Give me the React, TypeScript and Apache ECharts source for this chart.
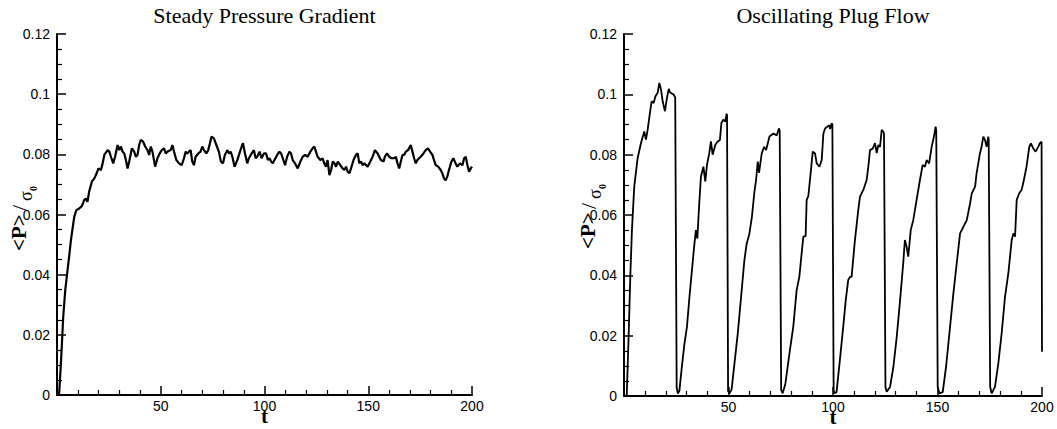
import React, { useEffect, useRef } from "react";
import * as echarts from "echarts";

const titles = ["Steady Pressure Gradient", "Oscillating Plug Flow"];
const xName = "t";
const yNameParts = ["<P>", "/", "σ", "0"];
const xTicks = [0, 50, 100, 150, 200];
const yTicks = [0, 0.02, 0.04, 0.06, 0.08, 0.1, 0.12];

// t values
const steadyT = [
  1, 2, 3, 4, 5, 6, 6.7, 8.3, 9.3, 10.7, 12, 13.1, 13.9, 14.7, 15.5, 16.8, 18, 19.1, 20, 21.2, 22, 22.8,
  24.4, 25.2, 26, 27.1, 28, 29.2, 30, 30.8, 31.6, 32.4, 33.2, 34, 34.8, 36.1, 37.2, 38, 38.8, 39.6, 40.4,
  41.5, 42.5, 43.6, 44.4, 45.2, 46, 47.3, 48.4, 49.5, 50.5, 51.6, 52.4, 53.2, 54.8, 55.6, 56.4, 57.5,
  58.8, 60.1, 61.2, 62, 62.8, 63.6, 64.4, 65.2, 66, 66.8, 68.1, 69.2, 70, 70.8, 72, 72.9, 74.5, 75.6,
  76.8, 78, 79, 80, 80.9, 82.1, 82.9, 83.7, 84.5, 85.6, 86.9, 87.7, 89, 89.6, 90.6, 91.7, 92.5, 93.8,
  94.9, 95.7, 96.5, 97.6, 98.6, 99.7, 100.8, 101.6, 102.4, 103.2, 104, 104.8, 106.1, 107.2, 108, 108.8,
  109.9, 110.9, 112, 112.8, 113.6, 114.7, 116, 117.3, 118.4, 119.6, 120.8, 122.1, 123.2, 124, 124.8,
  125.6, 126.9, 128, 128.8, 129.6, 130.4, 131.3, 132.1, 132.9, 133.7, 134.5, 135.3, 136.5, 137.7, 138.5,
  139.3, 140.1, 140.9, 141.7, 142.9, 144.1, 144.9, 145.7, 146.5, 147.3, 148.1, 149.7, 151, 152.1, 153.2,
  154.5, 155.3, 156.1, 157.4, 158, 159, 160.1, 161.2, 162.5, 163.3, 164.1, 164.9, 165.7, 166.5, 167.3,
  168.1, 169.2, 170.5, 171.3, 172.1, 172.9, 173.7, 174.5, 175.3, 176.6, 177.7, 178.8, 179.8, 180.9,
  181.7, 182.5, 183.7, 184.9, 185.7, 186.5, 187.3, 188.1, 188.9, 190.1, 191, 192.1, 192.9, 194.2, 195.4,
  196.2, 197, 197.8, 198.6, 199.4, 200,
];
// <P>/σ0 values of the steady pressure gradient panel
const steadyP = [
  0, 0.012, 0.026, 0.035, 0.041, 0.047, 0.0514, 0.0592, 0.0614, 0.062, 0.0628, 0.0648, 0.0653, 0.0642,
  0.0676, 0.0709, 0.072, 0.0737, 0.0753, 0.0748, 0.077, 0.0798, 0.0814, 0.0809, 0.0792, 0.077, 0.0792,
  0.0831, 0.0814, 0.0826, 0.0809, 0.0803, 0.0781, 0.0753, 0.0776, 0.082, 0.0809, 0.0792, 0.0798, 0.0831,
  0.0848, 0.0842, 0.0826, 0.0814, 0.0798, 0.0826, 0.0809, 0.0759, 0.0787, 0.0803, 0.0814, 0.082, 0.0803,
  0.0809, 0.0814, 0.0831, 0.0809, 0.0781, 0.077, 0.0764, 0.0787, 0.0809, 0.0803, 0.0809, 0.0814, 0.0776,
  0.0764, 0.0792, 0.0803, 0.0809, 0.0826, 0.0814, 0.0803, 0.0814, 0.0859, 0.0853, 0.0831, 0.0809, 0.0776,
  0.077, 0.0798, 0.0814, 0.0803, 0.0809, 0.0792, 0.0759, 0.0781, 0.0798, 0.0826, 0.0837, 0.0803, 0.077,
  0.0787, 0.0803, 0.0814, 0.0787, 0.0792, 0.0809, 0.0787, 0.0803, 0.0803, 0.0781, 0.0787, 0.0776, 0.077,
  0.0781, 0.0798, 0.0809, 0.0803, 0.0787, 0.0764, 0.0792, 0.0809, 0.0803, 0.0781, 0.077, 0.0753, 0.0776,
  0.0792, 0.0798, 0.0792, 0.0809, 0.082, 0.0826, 0.0809, 0.0792, 0.0781, 0.0787, 0.077, 0.0759, 0.0781,
  0.0731, 0.0748, 0.0776, 0.077, 0.0759, 0.0776, 0.0764, 0.0753, 0.0748, 0.0759, 0.0742, 0.0737, 0.0753,
  0.0781, 0.0798, 0.0803, 0.077, 0.0776, 0.0764, 0.077, 0.0759, 0.0776, 0.0792, 0.0814, 0.0803, 0.0792,
  0.0781, 0.0776, 0.0792, 0.0803, 0.0792, 0.0787, 0.0787, 0.0792, 0.077, 0.0753, 0.0776, 0.0798, 0.0798,
  0.0809, 0.0814, 0.0831, 0.0809, 0.0787, 0.077, 0.0781, 0.0787, 0.0792, 0.0803, 0.0814, 0.082, 0.0809,
  0.0798, 0.0781, 0.0764, 0.0759, 0.0748, 0.0737, 0.072, 0.0714, 0.0726, 0.0748, 0.0776, 0.0787, 0.077,
  0.0759, 0.077, 0.0764, 0.0787, 0.0792, 0.0764, 0.0742, 0.0753, 0.0759,
];

// t values
const plugT = [
  1.3, 2.2, 3, 3.8, 4.9, 6.5, 8.1, 9.7, 10.5, 11.3, 12.4, 13.2, 14.2, 15, 16.1, 16.9, 17.7, 18.5, 19.6,
  20.4, 21.4, 22, 23, 23.8, 24.2, 24.5, 25.2, 25.8, 26.5, 27.8, 28.9, 30.1, 31.3, 32.5, 33.7, 34.4, 35.1,
  36, 36.8, 38, 38.9, 39.7, 40.8, 41.6, 42.4, 43.7, 44.8, 45.9, 46.6, 47.5, 48.5, 49.1, 49.3, 49.8, 50.4,
  51.5, 52.8, 54.4, 56, 57.6, 58.7, 60, 61.2, 62.4, 63.2, 64, 64.6, 65.9, 67, 68, 69.6, 71.5, 73.1, 74.1,
  74.5, 75.2, 75.9, 77.2, 79.4, 81, 82.6, 83.9, 85, 85.8, 86.9, 87.4, 88.2, 89.3, 90.3, 91.4, 92.2, 93.5,
  94.6, 95.4, 96.2, 97.3, 98.2, 98.6, 99.4, 99.7, 100.3, 100.6, 101.7, 103.3, 104.9, 106.1, 107.3, 108.1,
  108.9, 110.5, 112.1, 112.9, 114.5, 116.1, 116.9, 117.7, 119, 120.1, 120.9, 121.7, 122.5, 123.3, 124.1,
  124.4, 125.1, 125.7, 127.3, 128.9, 130.5, 132.1, 133.6, 134.4, 135.2, 136, 137.2, 138.4, 140, 141.6,
  142.9, 144, 144.8, 146, 147.2, 148.3, 149.1, 149.4, 150.1, 150.9, 152.5, 154.1, 155.7, 157.6, 159.2,
  160.8, 162.4, 164, 165.6, 166.4, 168, 168.7, 169.5, 170.3, 171.1, 171.9, 172.7, 173.5, 174.3, 174.5,
  175.2, 175.9, 177.5, 179.1, 180.7, 182.3, 183.9, 185.5, 186.3, 187.1, 187.9, 189.1, 190.2, 191, 192.6,
  193.9, 194.7, 195.8, 196.9, 198.2, 199, 199.8, 200,
];
// <P>/σ0 values of the oscillating plug flow panel
const plugP = [
  0, 0.0194, 0.0394, 0.055, 0.0694, 0.0788, 0.0838, 0.0877, 0.085, 0.0882, 0.0938, 0.0977, 0.0971,
  0.0993, 0.1005, 0.1038, 0.1016, 0.0977, 0.0944, 0.0982, 0.1018, 0.1007, 0.1002, 0.0999, 0.0993, 0.099,
  0.0028, 0.0008, 0.0017, 0.0105, 0.0172, 0.0228, 0.0327, 0.0416, 0.0505, 0.055, 0.0522, 0.0638, 0.0727,
  0.076, 0.0711, 0.0766, 0.0805, 0.0844, 0.08, 0.0833, 0.0844, 0.0849, 0.0905, 0.0916, 0.091, 0.0936,
  0.093, 0.0017, 0.0008, 0.0022, 0.0105, 0.0205, 0.0327, 0.045, 0.0505, 0.0538, 0.0594, 0.0677, 0.0716,
  0.0777, 0.074, 0.0804, 0.0826, 0.0815, 0.086, 0.087, 0.0864, 0.0887, 0.088, 0.002, 0.0009, 0.004,
  0.0153, 0.023, 0.0351, 0.0395, 0.0473, 0.0528, 0.053, 0.065, 0.0663, 0.0738, 0.081, 0.0804, 0.0771,
  0.076, 0.0782, 0.087, 0.0887, 0.0893, 0.0898, 0.0885, 0.0904, 0.09, 0.002, 0.0009, 0.0013, 0.012, 0.023,
  0.0318, 0.0385, 0.0395, 0.0395, 0.0517, 0.0617, 0.0661, 0.0683, 0.0716, 0.076, 0.0815, 0.082, 0.0838,
  0.0805, 0.0832, 0.0826, 0.0882, 0.0876, 0.087, 0.003, 0.0014, 0.003, 0.0097, 0.0197, 0.0318, 0.044,
  0.0517, 0.0495, 0.0462, 0.055, 0.0583, 0.065, 0.0716, 0.0766, 0.076, 0.0782, 0.0771, 0.0826, 0.086,
  0.0893, 0.088, 0.003, 0.0009, 0.0013, 0.0097, 0.0208, 0.034, 0.044, 0.0539, 0.0561, 0.0583, 0.0639,
  0.0672, 0.0694, 0.0738, 0.0771, 0.0804, 0.0826, 0.086, 0.0849, 0.0826, 0.086, 0.085, 0.003, 0.0009,
  0.003, 0.0108, 0.0208, 0.0329, 0.0407, 0.0517, 0.0539, 0.0528, 0.065, 0.0672, 0.0683, 0.0705, 0.076,
  0.0826, 0.0837, 0.0821, 0.081, 0.0826, 0.0838, 0.0843, 0.0147,
];

const sans = "'Liberation Sans', Arial, Helvetica, sans-serif";
const serif = "'Liberation Serif', 'Times New Roman', serif";

export default function App() {
  const ref = useRef<HTMLDivElement>(null);

  useEffect(() => {
    document.body.style.margin = "0";
    if (!ref.current) return;
    const chart = echarts.init(ref.current, null, { renderer: "svg" });

    const grids = [
      { left: 57, top: 34, width: 415, height: 361, outerBoundsMode: "none", containLabel: false },
      { left: 624, top: 34, width: 418, height: 362, outerBoundsMode: "none", containLabel: false },
    ];

    const axisLine = { show: true, lineStyle: { color: "#000", width: 2 } };

    const xAxes = [0, 1].map((i) => ({
      type: "value",
      gridIndex: i,
      min: xTicks[0],
      max: xTicks[xTicks.length - 1],
      interval: xTicks[1] - xTicks[0],
      name: xName,
      nameLocation: "middle",
      nameGap: 10,
      nameMoveOverlap: false,
      nameTextStyle: { fontFamily: serif, fontWeight: "bold", fontSize: 21, color: "#000" },
      axisLine,
      axisTick: { show: true, inside: true, length: 9, lineStyle: { color: "#000", width: 1.5 } },
      minorTick: { show: true, splitNumber: 5, length: 5, lineStyle: { color: "#000", width: 1.2 } },
      splitLine: { show: false },
      axisLabel: {
        show: true,
        showMinLabel: false,
        margin: 4,
        fontFamily: sans,
        fontSize: 14,
        color: "#000",
      },
    }));

    const yAxes = [0, 1].map((i) => ({
      type: "value",
      gridIndex: i,
      min: yTicks[0],
      max: yTicks[yTicks.length - 1],
      interval: yTicks[1] - yTicks[0],
      axisLine,
      axisTick: { show: true, inside: true, length: 9, lineStyle: { color: "#000", width: 1.5 } },
      minorTick: { show: true, splitNumber: 4, length: 5, lineStyle: { color: "#000", width: 1.2 } },
      splitLine: { show: false },
      axisLabel: {
        show: true,
        margin: 7,
        fontFamily: sans,
        fontSize: 14,
        color: "#000",
        formatter: (v: number) => String(Number(v.toFixed(3))),
      },
    }));

    // rotated y-axis title, reading bottom to top
    const yTitle = (x: number, y: number) => ({
      type: "group",
      x,
      y,
      rotation: Math.PI / 2,
      silent: true,
      children: [
        { type: "text", x: 0, y: 3, style: { text: yNameParts[0], fontFamily: serif, fontWeight: "bold", fontSize: 21, fill: "#000", align: "left", verticalAlign: "bottom" } },
        { type: "text", x: 40, y: 4, style: { text: yNameParts[1], fontFamily: serif, fontSize: 22, fill: "#000", align: "left", verticalAlign: "bottom" } },
        { type: "text", x: 50, y: 9, style: { text: yNameParts[2], fontFamily: serif, fontSize: 18, fill: "#000", align: "left", verticalAlign: "bottom" } },
        { type: "text", x: 60, y: 12, style: { text: yNameParts[3], fontFamily: serif, fontWeight: "bold", fontSize: 10, fill: "#000", align: "left", verticalAlign: "bottom" } },
      ],
    });

    const zip = (ts: number[], ps: number[]) => ts.map((t, k) => [t, ps[k]]);

    const titleStyle = { fontFamily: serif, fontSize: 22, fontWeight: "normal", color: "#000" };

    chart.setOption({
      animation: false,
      backgroundColor: "#fff",
      title: [
        { text: titles[0], left: 57 + 415 / 2, top: 4, padding: 0, textAlign: "center", textStyle: titleStyle },
        { text: titles[1], left: 624 + 418 / 2, top: 4, padding: 0, textAlign: "center", textStyle: titleStyle },
      ],
      grid: grids,
      xAxis: xAxes,
      yAxis: yAxes,
      graphic: [yTitle(26, 251), yTitle(595, 249)],
      series: [
        {
          type: "line",
          xAxisIndex: 0,
          yAxisIndex: 0,
          data: zip(steadyT, steadyP),
          showSymbol: false,
          symbol: "none",
          lineStyle: { color: "#000", width: 2.2 },
        },
        {
          type: "line",
          xAxisIndex: 1,
          yAxisIndex: 1,
          data: zip(plugT, plugP),
          showSymbol: false,
          symbol: "none",
          lineStyle: { color: "#000", width: 1.8 },
        },
      ],
    });

    return () => chart.dispose();
  }, []);

  return <div ref={ref} style={{ width: 1057, height: 429, background: "#fff" }} />;
}
